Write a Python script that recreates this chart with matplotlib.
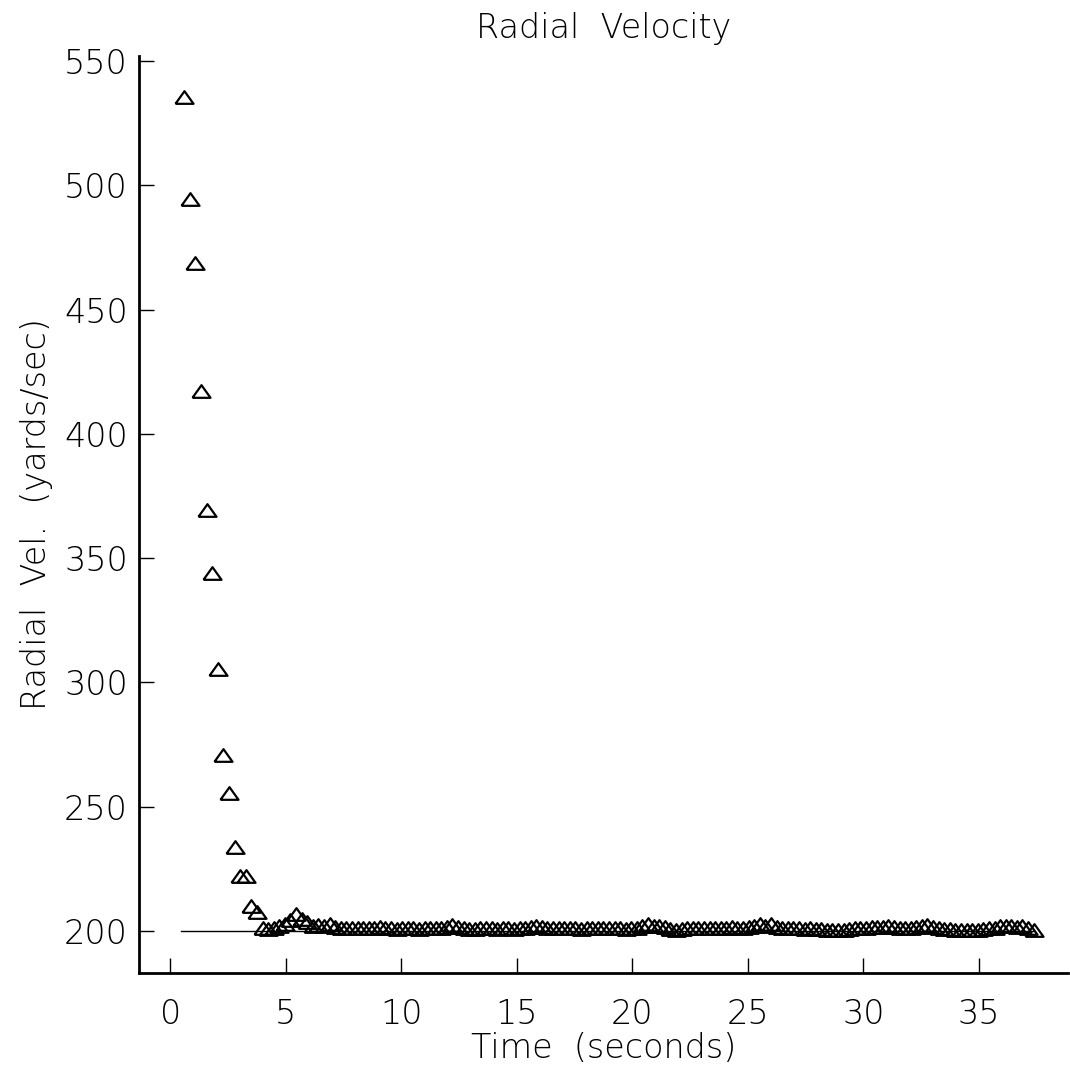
import numpy as np
import matplotlib
matplotlib.use("Agg")
import matplotlib.pyplot as plt

# sampling of the radar track (seconds)
t_start = 0.61
t_step = 0.2418
n_samples = 153

radial_vel = [
    535.6, 494.4, 468.6, 417.3, 369.4, 344.1, 305.4, 270.6, 255.7, 233.7,
    222.3, 222.3, 210.0, 207.6, 201.0, 200.8, 201.0, 202.0, 203.0, 204.5,
    207.0, 205.0, 203.5, 202.0, 202.5, 202.0, 203.0, 201.5, 201.0, 201.0,
    201.0, 201.0, 201.2, 201.0, 201.0, 201.6, 201.0, 201.0, 200.8, 201.0,
    201.0, 201.0, 200.9, 201.0, 201.0, 201.1, 201.0, 201.4, 202.4, 201.5,
    201.0, 200.8, 200.8, 201.0, 201.0, 201.0, 200.9, 201.0, 201.0, 200.8,
    201.0, 201.2, 201.5, 201.8, 201.5, 201.0, 201.2, 201.0, 201.0, 201.0,
    201.0, 200.9, 201.0, 201.0, 201.0, 201.0, 201.0, 201.0, 201.0, 200.8,
    201.0, 201.0, 201.8, 203.0, 202.0, 202.0, 201.5, 200.8, 200.5, 200.8,
    201.0, 201.0, 201.0, 201.0, 201.2, 201.0, 201.0, 201.0, 201.4, 201.0,
    201.0, 201.5, 202.0, 203.0, 202.0, 202.8, 201.5, 201.0, 201.0, 201.2,
    201.0, 200.8, 201.0, 200.8, 200.6, 200.5, 200.5, 200.4, 200.5, 200.6,
    201.0, 201.0, 201.2, 201.5, 201.5, 201.7, 202.0, 201.5, 201.2, 201.0,
    201.2, 201.5, 202.0, 202.5, 201.5, 201.0, 200.8, 200.6, 200.5, 200.5,
    200.4, 200.5, 200.5, 200.6, 201.0, 201.3, 201.8, 202.0, 202.0, 201.5,
    201.8, 201.0, 200.2,
]
time = t_start + t_step * np.arange(n_samples)

# true velocity reference line
ref_time = [0.45, 37.4]
ref_vel = [200, 200]

x_ticks = [0, 5, 10, 15, 20, 25, 30, 35]
y_ticks = [200, 250, 300, 350, 400, 450, 500, 550]

plt.rcParams["font.family"] = ["DejaVu Sans"]
plt.rcParams["font.weight"] = "light"
plt.rcParams["axes.titleweight"] = "light"
plt.rcParams["axes.labelweight"] = "light"

fig = plt.figure(figsize=(10.70, 10.83), dpi=100)
ax = fig.add_axes([0.1299, 0.1016, 0.8682, 0.8467])

tri = [(-1, -0.7), (1, -0.7), (0, 0.7), (-1, -0.7)]
ax.plot(ref_time, ref_vel, color="black", lw=1.0)
ax.plot(time, radial_vel, linestyle="none", marker=tri, markersize=13,
        markerfacecolor="none", markeredgecolor="black", markeredgewidth=1.6)

ax.set_xlim(-1.35, 38.85)
ax.set_ylim(183.1, 552)
ax.set_xticks(x_ticks)
ax.set_yticks(y_ticks)
ax.tick_params(direction="in", length=11, width=1.0, labelsize=24)
ax.tick_params(axis="x", pad=18)
ax.tick_params(axis="y", pad=8)
for s in ["top", "right"]:
    ax.spines[s].set_visible(False)
for s in ["left", "bottom"]:
    ax.spines[s].set_linewidth(2.0)

ax.set_title("Radial  Velocity", fontsize=24, pad=13, fontweight="light")
ax.set_xlabel("Time  (seconds)", fontsize=24, labelpad=1, fontweight="light")
ax.set_ylabel("Radial  Vel.  (yards/sec)", fontsize=24, labelpad=8,
              fontweight="light")

fig.savefig("out.png", dpi=100)
